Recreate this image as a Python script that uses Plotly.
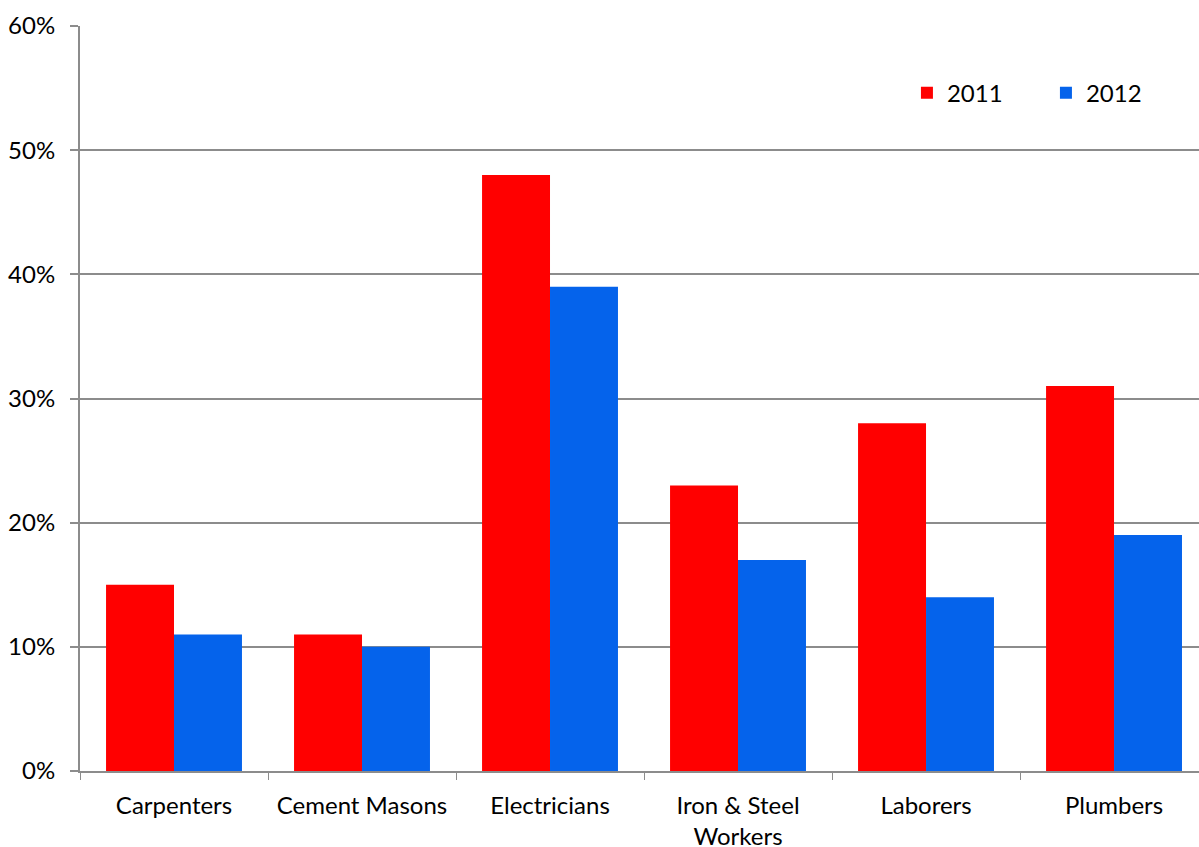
import plotly.graph_objects as go

# Данные графика
categories = ["Carpenters", "Cement Masons", "Electricians",
              "Iron & Steel<br>Workers", "Laborers", "Plumbers"]
values_2011 = [0.15, 0.11, 0.48, 0.23, 0.28, 0.31]
values_2012 = [0.11, 0.10, 0.39, 0.17, 0.14, 0.19]
y_ticks = [0, 0.1, 0.2, 0.3, 0.4, 0.5, 0.6]

FONT = "Lato, Carlito, 'Open Sans', sans-serif"
GRID = "#8c8c8c"

fig = go.Figure()

fig.add_trace(go.Bar(
    x=categories, y=values_2011, name="2011",
    marker=dict(color="#ff0000", line=dict(width=0)),
))
fig.add_trace(go.Bar(
    x=categories, y=values_2012, name="2012",
    marker=dict(color="#0563eb", line=dict(width=0)),
))

fig.update_layout(
    width=1199, height=847,
    margin=dict(l=80, r=0, t=26, b=76, autoexpand=False),
    barmode="group",
    bargap=0.277,
    bargroupgap=0,
    plot_bgcolor="white",
    paper_bgcolor="white",
    font=dict(family=FONT, size=24, color="black"),
    legend=dict(
        orientation="h",
        x=0.739, y=0.91, xanchor="left", yanchor="middle",
        font=dict(size=24),
        entrywidth=94,
        bgcolor="rgba(0,0,0,0)",
    ),
)

# Настройка осей
fig.update_xaxes(
    range=[-0.5, 5.452],
    automargin=False,
    showline=True, linecolor=GRID, linewidth=2,
    ticks="outside", tickson="boundaries", ticklen=7,
    tickcolor=GRID, tickwidth=1,
    ticklabelstandoff=12,
    showgrid=False,
    tickfont=dict(size=24),
)
fig.update_yaxes(
    range=[0, 0.6],
    automargin=False,
    tickvals=y_ticks, tickformat=".0%",
    showline=True, linecolor=GRID, linewidth=2,
    ticks="outside", ticklen=8, tickcolor=GRID, tickwidth=2,
    ticklabelstandoff=10,
    showgrid=True, gridcolor=GRID, gridwidth=2,
    zeroline=False,
    tickfont=dict(size=24),
)

# убираем отступы страницы, чтобы график занимал всё окно
fig.write_html(
    "out.html",
    config={"displayModeBar": False},
    post_script="document.body.style.margin='0';document.body.style.overflow='hidden';",
)
